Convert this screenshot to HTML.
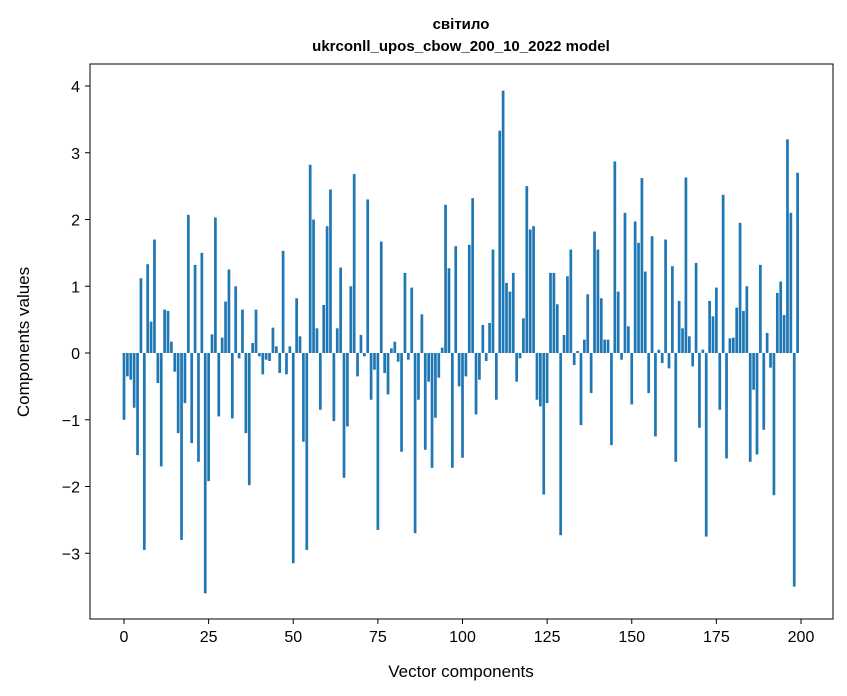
<!DOCTYPE html>
<html><head><meta charset="utf-8">
<style>
html,body{margin:0;padding:0;background:#fff;}
svg{display:block;font-family:"Liberation Sans","DejaVu Sans",sans-serif;}
</style></head>
<body>
<svg id="chart" width="847" height="696" viewBox="0 0 847 696">
  <text x="461" y="29" text-anchor="middle" font-size="15" font-weight="bold">світило</text>
  <text x="461" y="51" text-anchor="middle" font-size="15" font-weight="bold">ukrconll_upos_cbow_200_10_2022 model</text>
  <g id="bars"></g>
  <g id="xticks"></g>
  <g id="yticks"></g>
  <rect x="90" y="64" width="743" height="555" fill="none" stroke="#000" stroke-width="1"/>
  <text x="461" y="677" text-anchor="middle" font-size="17">Vector components</text>
  <text transform="translate(29,342) rotate(-90)" text-anchor="middle" font-size="17">Components values</text>
</svg>
<script>
const values = [-1.0,-0.35,-0.4,-0.82,-1.53,1.12,-2.95,1.33,0.47,1.7,-0.45,-1.7,0.65,0.63,0.17,-0.28,-1.2,-2.8,-0.75,2.07,
-1.35,1.32,-1.63,1.5,-3.6,-1.92,0.28,2.03,-0.95,0.23,0.77,1.25,-0.98,1.0,-0.08,0.65,-1.2,-1.98,0.15,0.65,
-0.05,-0.32,-0.1,-0.12,0.38,0.1,-0.3,1.53,-0.32,0.1,-3.15,0.82,0.25,-1.33,-2.95,2.82,2.0,0.37,-0.85,0.72,
1.9,2.45,-1.02,0.37,1.28,-1.87,-1.1,1.0,2.68,-0.35,0.27,-0.05,2.3,-0.7,-0.25,-2.65,1.67,-0.3,-0.62,0.07,
0.17,-0.13,-1.48,1.2,-0.1,0.98,-2.7,-0.7,0.58,-1.45,-0.43,-1.72,-0.97,-0.37,0.08,2.22,1.27,-1.72,1.6,-0.5,
-1.57,-0.35,1.62,2.32,-0.92,-0.4,0.42,-0.12,0.45,1.55,-0.7,3.33,3.93,1.05,0.92,1.2,-0.43,-0.08,0.52,2.5,
1.85,1.9,-0.7,-0.8,-2.12,-0.75,1.2,1.2,0.73,-2.73,0.27,1.15,1.55,-0.18,0.03,-1.08,0.2,0.88,-0.6,1.82,
1.55,0.82,0.2,0.2,-1.38,2.87,0.92,-0.1,2.1,0.4,-0.77,1.97,1.65,2.62,1.22,-0.6,1.75,-1.25,0.05,-0.15,
1.7,-0.23,1.3,-1.63,0.78,0.37,2.63,0.25,-0.2,1.35,-1.12,0.05,-2.75,0.78,0.55,0.98,-0.85,2.37,-1.58,0.22,
0.23,0.68,1.95,0.63,1.0,-1.63,-0.55,-1.52,1.32,-1.15,0.3,-0.22,-2.13,0.9,1.07,0.57,3.2,2.1,-3.5,2.7];
const xTickValues = [0,25,50,75,100,125,150,175,200];
const yTickValues = [-3,-2,-1,0,1,2,3,4];
const yTickLabels = ["\u22123","\u22122","\u22121","0","1","2","3","4"];

const NS="http://www.w3.org/2000/svg";
const xScale = v => 124 + v*3.385;
const yScale = v => 353 - v*66.75;
const bars=document.getElementById('bars');
values.forEach((v,i)=>{
  const r=document.createElementNS(NS,'rect');
  const y0=yScale(0), y1=yScale(v);
  r.setAttribute('x',xScale(i-0.4));
  r.setAttribute('width',0.8*3.385);
  r.setAttribute('y',Math.min(y0,y1));
  r.setAttribute('height',Math.max(0.5,Math.abs(y1-y0)));
  r.setAttribute('fill','#1f77b4');
  
  
  bars.appendChild(r);
});
const xt=document.getElementById('xticks');
xTickValues.forEach(v=>{
  const x=xScale(v);
  const l=document.createElementNS(NS,'line');
  l.setAttribute('x1',x);l.setAttribute('x2',x);l.setAttribute('y1',619);l.setAttribute('y2',624);
  l.setAttribute('stroke','#000');
  
  
  xt.appendChild(l);
  const t=document.createElementNS(NS,'text');
  t.setAttribute('x',x);t.setAttribute('y',642);t.setAttribute('text-anchor','middle');t.setAttribute('font-size','16');
  t.textContent=String(v);
  
  
  xt.appendChild(t);
});
const yt=document.getElementById('yticks');
yTickValues.forEach((v,i)=>{
  const y=yScale(v);
  const l=document.createElementNS(NS,'line');
  l.setAttribute('x1',85);l.setAttribute('x2',90);l.setAttribute('y1',y);l.setAttribute('y2',y);
  l.setAttribute('stroke','#000');
  
  
  yt.appendChild(l);
  const t=document.createElementNS(NS,'text');
  t.setAttribute('x',80);t.setAttribute('y',y+6);t.setAttribute('text-anchor','end');t.setAttribute('font-size','16');
  t.textContent=yTickLabels[i];
  
  
  yt.appendChild(t);
});
</script>
</body></html>
